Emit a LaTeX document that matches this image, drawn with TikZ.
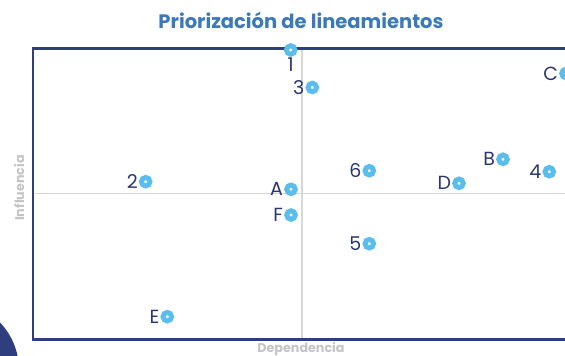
\documentclass[tikz,border=0pt]{standalone}
\usepackage{fontspec}
\setmainfont{Poppins}
\definecolor{navy}{HTML}{2E3E7E}
\definecolor{titleblue}{HTML}{3B79B9}
\definecolor{dotblue}{HTML}{5BBDEB}
\definecolor{axisgray}{HTML}{D8D8D8}
\definecolor{labgray}{HTML}{C4C4C4}
\definecolor{txtnavy}{HTML}{2B3670}
\begin{document}
\begin{tikzpicture}[x=1pt,y=-1pt,
  pt/.style={circle,fill=white,draw=dotblue,line width=5pt,minimum size=8.5pt,inner sep=0pt},
  lab/.style={font=\fontsize{19}{19}\selectfont,text=txtnavy,inner sep=0pt,label distance=1pt},
  axlab/.style={font=\bfseries\fontsize{12.7}{12.7}\selectfont,text=labgray,inner sep=0pt}]
\useasboundingbox (0,0) rectangle (565,356);
\clip (0,0) rectangle (565,356);
% decorative circle
\fill[navy] (-50,370) circle (69);
% title
\node[font=\bfseries\fontsize{19.5}{19.5}\selectfont,text=titleblue,inner sep=0pt] (title) at (301,20) {Priorización de lineamientos};
% axes
\draw[axisgray,line width=1.6pt] (35,193.5) -- (566,193.5);
\draw[axisgray,line width=1.6pt] (302,50) -- (302,338);
% frame
\draw[navy,line width=2.6pt] (570,48.5) -- (33,48.5) -- (33,339.5) -- (570,339.5);
% axis labels
\node[axlab] (dep) at (301,349) {Dependencia};
\node[axlab,rotate=90] (inf) at (19,188) {Influencia};
% points
\node[pt,label={[lab]below:1}] (p1) at (290.7,50) {};
\node[pt,label={[lab]left:3}] (p3) at (312.3,87.5) {};
\node[pt,label={[lab]left:C}] (pC) at (566,73.5) {};
\node[pt,label={[lab]left:2}] (p2) at (145.7,181.7) {};
\node[pt,label={[lab]left:A}] (pA) at (291,189.3) {};
\node[pt,label={[lab]left:F}] (pF) at (291,215) {};
\node[pt,label={[lab]left:E}] (pE) at (167.3,316.7) {};
\node[pt,label={[lab]left:6}] (p6) at (369.3,170.7) {};
\node[pt,label={[lab]left:D}] (pD) at (459,183.3) {};
\node[pt,label={[lab]left:B}] (pB) at (503,159.3) {};
\node[pt,label={[lab]left:4}] (p4) at (549.3,171.7) {};
\node[pt,label={[lab]left:5}] (p5) at (369.3,243.7) {};
\end{tikzpicture}
\end{document}
